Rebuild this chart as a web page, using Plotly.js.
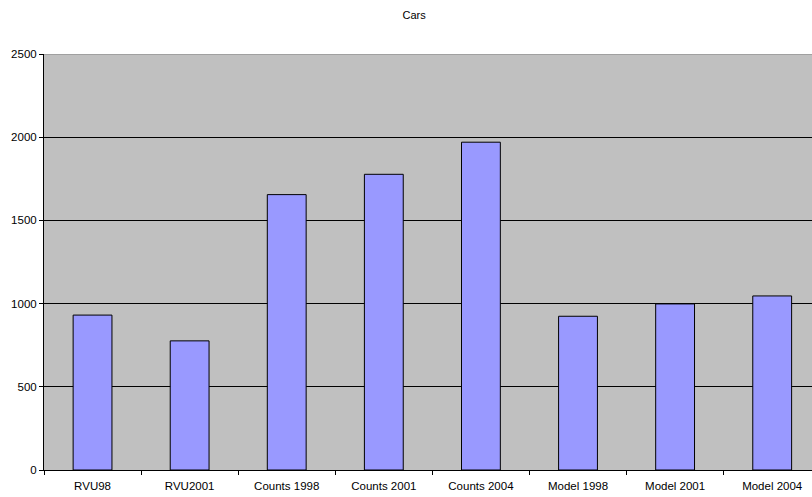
<!DOCTYPE html>
<html>
<head>
<meta charset="utf-8">
<script src="https://cdn.plot.ly/plotly-3.0.1.min.js"></script>
<style>html,body{margin:0;padding:0;background:#fff;}#chart{width:812px;height:497px;}</style>
</head>
<body>
<div id="chart"></div>
<script>
const categories = ["RVU98", "RVU2001", "Counts 1998", "Counts 2001", "Counts 2004", "Model 1998", "Model 2001", "Model 2004"];
const carValues = [931, 776, 1655, 1777, 1970, 924, 998, 1046];
const yTicks = [0, 500, 1000, 1500, 2000, 2500];

const trace = {
  type: "bar",
  x: categories,
  y: carValues,
  marker: {color: "#9999FF", line: {color: "#000000", width: 1}},
  hoverinfo: "none"
};

const layout = {
  width: 812, height: 497,
  margin: {l: 44, r: 0, t: 54, b: 27},
  paper_bgcolor: "#FFFFFF",
  plot_bgcolor: "#C0C0C0",
  title: {text: "Cars", x: 0.51, xanchor: "center", y: 0.97, yanchor: "middle", font: {family: "Liberation Sans, Arial, sans-serif", size: 11, color: "#000"}},
  font: {family: "Liberation Sans, Arial, sans-serif", size: 11, color: "#000"},
  bargap: 0.6,
  showlegend: false,
  xaxis: {
    range: [-0.5, 7.41], showgrid: false, zeroline: false,
    showline: true, linecolor: "#000", linewidth: 1,
    ticks: "outside", tickson: "boundaries", ticklen: 4, tickcolor: "#000",
    ticklabelstandoff: 5,
    tickfont: {size: 11.5}, fixedrange: true
  },
  yaxis: {
    range: [0, 2500], tickvals: yTicks, showgrid: true, gridcolor: "#000", gridwidth: 1,
    zeroline: false, showline: true, linecolor: "#000", linewidth: 1,
    ticks: "outside", ticklen: 4, tickcolor: "#000", tickfont: {size: 11.5}, fixedrange: true
  },
  shapes: [
    {type: "line", xref: "paper", yref: "y", x0: 0, x1: 1, y0: 2500, y1: 2500, line: {color: "#808080", width: 1}}
  ]
};

Plotly.newPlot("chart", [trace], layout, {displayModeBar: false, staticPlot: true});
</script>
</body>
</html>
